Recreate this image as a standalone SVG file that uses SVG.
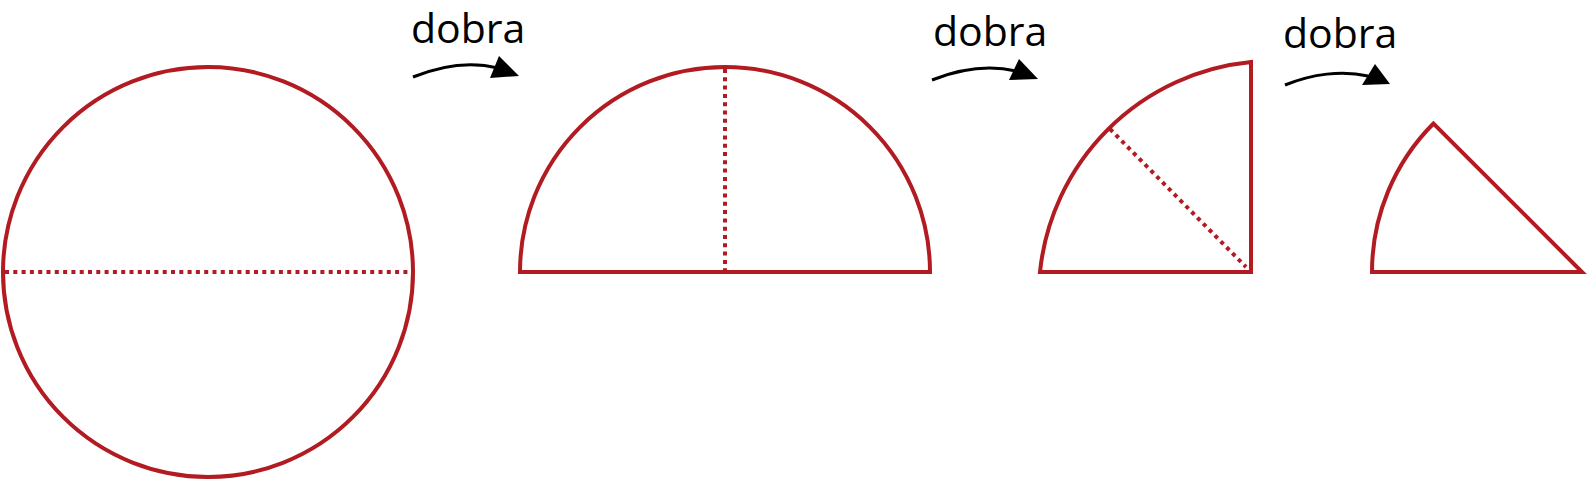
<svg xmlns="http://www.w3.org/2000/svg" width="1589" height="480" viewBox="0 0 1589 480">
<style>
.shape{fill:none;stroke:#b11b21;stroke-width:4;stroke-miterlimit:10}
.fold{fill:none;stroke:#b11b21;stroke-width:4;stroke-dasharray:4 4.3}
.arrow{fill:none;stroke:#000;stroke-width:3}
.head{fill:#000}
.lbl{font-family:"Open Sans","Noto Sans","DejaVu Sans",sans-serif;font-size:41px;fill:#000}
</style>
<rect width="1589" height="480" fill="#fff"/>
<g id="circle">
<circle class="shape" cx="208" cy="272" r="205"/>
<line class="fold" x1="5" y1="272" x2="409" y2="272"/>
</g>
<g id="half">
<path class="shape" d="M520,272 A205,205 0 0 1 930,272 Z"/>
<line class="fold" x1="725" y1="69" x2="725" y2="270"/>
</g>
<g id="quarter">
<path class="shape" d="M1040,272 A235,235 0 0 1 1251,62 L1251,272 Z"/>
<line class="fold" x1="1110" y1="129" x2="1246" y2="267"/>
</g>
<g id="eighth">
<path class="shape" d="M1372,272 A210,210 0 0 1 1433.5,123.5 L1582,272 Z"/>
</g>
<g id="connectors">
<path class="arrow" d="M413,77 C440,66 470,61 498,68"/>
<polygon class="head" points="519,76 499,56 490,78"/>
<path class="arrow" d="M932,80 C960,69 990,65 1016,71"/>
<polygon class="head" points="1038,79 1019,59 1009,80"/>
<path class="arrow" d="M1285,85 C1312,74 1342,70 1368,76"/>
<polygon class="head" points="1390,84 1375,64 1362,85"/>
</g>
<g id="labels">
<text class="lbl" x="411" y="43">dobra</text>
<text class="lbl" x="933" y="46">dobra</text>
<text class="lbl" x="1283" y="48">dobra</text>
</g>
</svg>
